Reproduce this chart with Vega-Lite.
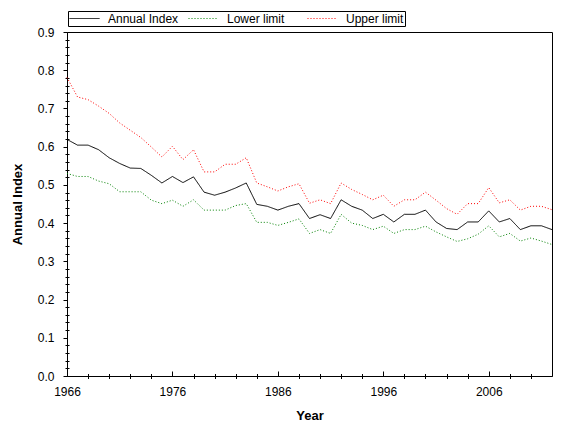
{
  "$schema": "https://vega.github.io/schema/vega-lite/v6.json",
  "width": 485,
  "height": 344,
  "autosize": {"type": "none"},
  "padding": {"left": 67, "top": 32, "right": 28, "bottom": 59},
  "background": "white",
  "config": {
    "font": "Liberation Sans",
    "view": {"stroke": "black", "strokeWidth": 1},
    "axis": {
      "grid": false,
      "domainColor": "black",
      "domainWidth": 1,
      "tickColor": "black",
      "tickWidth": 1,
      "labelColor": "black",
      "labelFont": "Liberation Sans",
      "labelFontSize": 12,
      "titleColor": "black",
      "titleFont": "Liberation Sans",
      "titleFontSize": 13,
      "titleFontWeight": "bold"
    },
    "legend": {
      "direction": "horizontal",
      "symbolType": "stroke",
      "symbolSize": 900,
      "symbolStrokeWidth": 1,
      "clipHeight": 13,
      "labelOffset": 8,
      "columnPadding": 9,
      "gridAlign": "all",
      "strokeColor": "black",
      "fillColor": "white",
      "padding": 1,
      "labelFont": "Liberation Sans",
      "labelFontSize": 12,
      "labelColor": "black",
      "labelLimit": 0
    }
  },
  "data": {
    "values": [
      {"Year": 1966, "Annual Index": 0.619, "Lower limit": 0.530, "Upper limit": 0.781},
      {"Year": 1967, "Annual Index": 0.604, "Lower limit": 0.522, "Upper limit": 0.730},
      {"Year": 1968, "Annual Index": 0.604, "Lower limit": 0.522, "Upper limit": 0.723},
      {"Year": 1969, "Annual Index": 0.592, "Lower limit": 0.510, "Upper limit": 0.706},
      {"Year": 1970, "Annual Index": 0.571, "Lower limit": 0.503, "Upper limit": 0.687},
      {"Year": 1971, "Annual Index": 0.556, "Lower limit": 0.482, "Upper limit": 0.662},
      {"Year": 1972, "Annual Index": 0.544, "Lower limit": 0.482, "Upper limit": 0.643},
      {"Year": 1973, "Annual Index": 0.543, "Lower limit": 0.482, "Upper limit": 0.624},
      {"Year": 1974, "Annual Index": 0.525, "Lower limit": 0.460, "Upper limit": 0.599},
      {"Year": 1975, "Annual Index": 0.505, "Lower limit": 0.451, "Upper limit": 0.573},
      {"Year": 1976, "Annual Index": 0.522, "Lower limit": 0.460, "Upper limit": 0.601},
      {"Year": 1977, "Annual Index": 0.506, "Lower limit": 0.444, "Upper limit": 0.566},
      {"Year": 1978, "Annual Index": 0.521, "Lower limit": 0.461, "Upper limit": 0.592},
      {"Year": 1979, "Annual Index": 0.481, "Lower limit": 0.434, "Upper limit": 0.534},
      {"Year": 1980, "Annual Index": 0.473, "Lower limit": 0.434, "Upper limit": 0.534},
      {"Year": 1981, "Annual Index": 0.481, "Lower limit": 0.434, "Upper limit": 0.554},
      {"Year": 1982, "Annual Index": 0.492, "Lower limit": 0.446, "Upper limit": 0.554},
      {"Year": 1983, "Annual Index": 0.505, "Lower limit": 0.451, "Upper limit": 0.571},
      {"Year": 1984, "Annual Index": 0.449, "Lower limit": 0.402, "Upper limit": 0.505},
      {"Year": 1985, "Annual Index": 0.444, "Lower limit": 0.402, "Upper limit": 0.495},
      {"Year": 1986, "Annual Index": 0.434, "Lower limit": 0.394, "Upper limit": 0.484},
      {"Year": 1987, "Annual Index": 0.444, "Lower limit": 0.402, "Upper limit": 0.495},
      {"Year": 1988, "Annual Index": 0.451, "Lower limit": 0.411, "Upper limit": 0.503},
      {"Year": 1989, "Annual Index": 0.412, "Lower limit": 0.373, "Upper limit": 0.452},
      {"Year": 1990, "Annual Index": 0.422, "Lower limit": 0.383, "Upper limit": 0.461},
      {"Year": 1991, "Annual Index": 0.412, "Lower limit": 0.373, "Upper limit": 0.451},
      {"Year": 1992, "Annual Index": 0.461, "Lower limit": 0.423, "Upper limit": 0.505},
      {"Year": 1993, "Annual Index": 0.444, "Lower limit": 0.400, "Upper limit": 0.488},
      {"Year": 1994, "Annual Index": 0.434, "Lower limit": 0.394, "Upper limit": 0.475},
      {"Year": 1995, "Annual Index": 0.412, "Lower limit": 0.383, "Upper limit": 0.461},
      {"Year": 1996, "Annual Index": 0.423, "Lower limit": 0.392, "Upper limit": 0.473},
      {"Year": 1997, "Annual Index": 0.403, "Lower limit": 0.373, "Upper limit": 0.444},
      {"Year": 1998, "Annual Index": 0.423, "Lower limit": 0.383, "Upper limit": 0.461},
      {"Year": 1999, "Annual Index": 0.423, "Lower limit": 0.383, "Upper limit": 0.461},
      {"Year": 2000, "Annual Index": 0.434, "Lower limit": 0.392, "Upper limit": 0.481},
      {"Year": 2001, "Annual Index": 0.403, "Lower limit": 0.377, "Upper limit": 0.460},
      {"Year": 2002, "Annual Index": 0.386, "Lower limit": 0.364, "Upper limit": 0.438},
      {"Year": 2003, "Annual Index": 0.383, "Lower limit": 0.352, "Upper limit": 0.423},
      {"Year": 2004, "Annual Index": 0.403, "Lower limit": 0.359, "Upper limit": 0.451},
      {"Year": 2005, "Annual Index": 0.403, "Lower limit": 0.371, "Upper limit": 0.451},
      {"Year": 2006, "Annual Index": 0.432, "Lower limit": 0.393, "Upper limit": 0.493},
      {"Year": 2007, "Annual Index": 0.403, "Lower limit": 0.364, "Upper limit": 0.453},
      {"Year": 2008, "Annual Index": 0.412, "Lower limit": 0.373, "Upper limit": 0.461},
      {"Year": 2009, "Annual Index": 0.383, "Lower limit": 0.353, "Upper limit": 0.434},
      {"Year": 2010, "Annual Index": 0.393, "Lower limit": 0.361, "Upper limit": 0.444},
      {"Year": 2011, "Annual Index": 0.393, "Lower limit": 0.353, "Upper limit": 0.444},
      {"Year": 2012, "Annual Index": 0.383, "Lower limit": 0.344, "Upper limit": 0.435}
    ]
  },
  "transform": [
    {"fold": ["Annual Index", "Lower limit", "Upper limit"], "as": ["Series", "Value"]}
  ],
  "layer": [
    {
      "mark": {"type": "line", "strokeWidth": 1},
      "encoding": {
        "x": {
          "field": "Year",
          "type": "quantitative",
          "scale": {"domain": [1966, 2012], "nice": false, "zero": false},
          "axis": {
            "orient": "bottom",
            "title": "Year",
            "values": [1966, 1976, 1986, 1996, 2006],
            "format": "d",
            "ticks": false,
            "labelPadding": 10,
            "titlePadding": 12,
            "labelFlush": false,
            "labelOverlap": false
          }
        },
        "y": {
          "field": "Value",
          "type": "quantitative",
          "scale": {"domain": [0, 0.9], "nice": false, "zero": false},
          "axis": {
            "orient": "left",
            "title": "Annual Index",
            "values": [0, 0.1, 0.2, 0.3, 0.4, 0.5, 0.6, 0.7, 0.8, 0.9],
            "format": ".1f",
            "tickSize": 4,
            "labelPadding": 9,
            "titlePadding": 13,
            "labelOverlap": false
          }
        },
        "color": {
          "field": "Series",
          "type": "nominal",
          "scale": {"domain": ["Annual Index", "Lower limit", "Upper limit"], "range": ["#000000", "#008000", "#ff0000"]},
          "legend": {"title": null, "orient": "none", "legendX": 1, "legendY": -21}
        },
        "strokeDash": {
          "field": "Series",
          "type": "nominal",
          "scale": {"domain": ["Annual Index", "Lower limit", "Upper limit"], "range": [[1, 0], [1, 2], [1, 2]]},
          "legend": {"title": null, "orient": "none", "legendX": 1, "legendY": -21}
        }
      }
    },
    {
      "mark": {"type": "point", "opacity": 0},
      "encoding": {
        "x": {
          "field": "Year",
          "type": "quantitative",
          "axis": {
            "orient": "bottom",
            "title": null,
            "values": [1976, 1986, 1996, 2006],
            "domain": false,
            "labels": false,
            "offset": -5,
            "tickSize": 5
          }
        },
        "y": {
          "field": "Value",
          "type": "quantitative",
          "axis": {
            "orient": "left",
            "title": null,
            "values": [0.02, 0.04, 0.06, 0.08, 0.12, 0.14, 0.16, 0.18, 0.22, 0.24, 0.26, 0.28, 0.32, 0.34, 0.36, 0.38, 0.42, 0.44, 0.46, 0.48, 0.52, 0.54, 0.56, 0.58, 0.62, 0.64, 0.66, 0.68, 0.72, 0.74, 0.76, 0.78, 0.82, 0.84, 0.86, 0.88],
            "domain": false,
            "labels": false,
            "offset": -2,
            "tickSize": 4
          }
        }
      }
    },
    {
      "mark": {"type": "point", "opacity": 0},
      "encoding": {
        "x": {
          "field": "Year",
          "type": "quantitative",
          "axis": {
            "orient": "bottom",
            "title": null,
            "values": [1968, 1970, 1972, 1974, 1978, 1980, 1982, 1984, 1988, 1990, 1992, 1994, 1998, 2000, 2002, 2004, 2008, 2010],
            "domain": false,
            "labels": false,
            "offset": -2.5,
            "tickSize": 5
          }
        },
        "y": {"field": "Value", "type": "quantitative", "axis": null}
      }
    }
  ],
  "resolve": {"axis": {"x": "independent", "y": "independent"}}
}
